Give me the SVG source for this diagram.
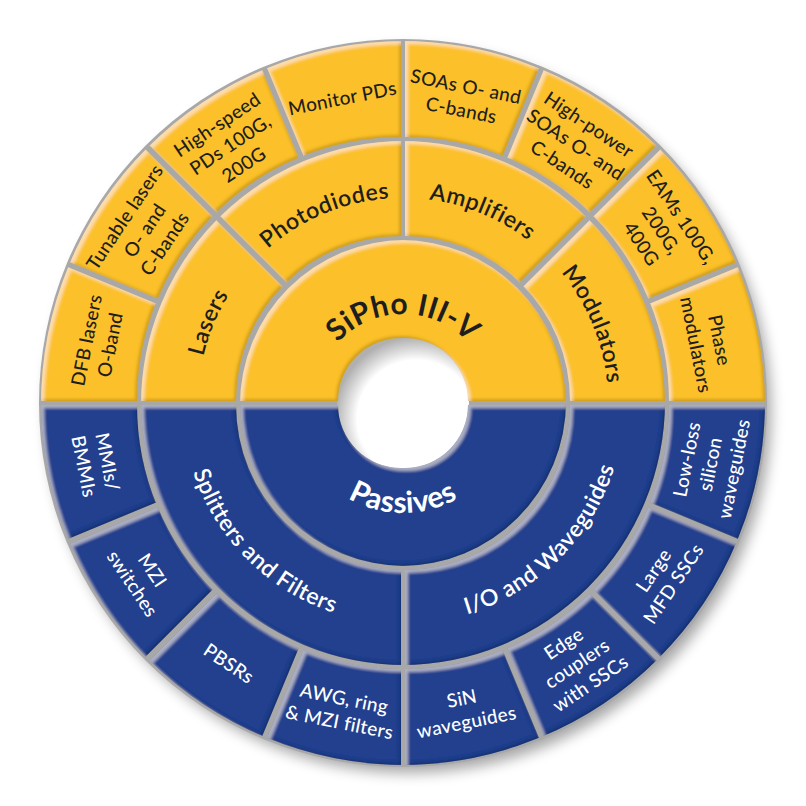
<svg xmlns="http://www.w3.org/2000/svg" xmlns:xlink="http://www.w3.org/1999/xlink" width="806" height="806" viewBox="0 0 806 806">
<style>
.y{fill:#FCC12B}
.b{fill:#213F8E}
.seg{filter:url(#bev)}
text{font-family:Lato,"Open Sans","Liberation Sans",sans-serif}
.to{font-size:19px;font-weight:500;letter-spacing:0.3px;text-anchor:middle;dominant-baseline:central}
.tm{font-size:23px;font-weight:600;letter-spacing:0.5px}
.tc{font-size:30px;font-weight:700;letter-spacing:0.5px}
.dk{fill:#1e1e1e}
.wt{fill:#ffffff}
</style>
<defs>
<filter id="shadow" x="-15%" y="-15%" width="130%" height="130%"><feGaussianBlur stdDeviation="7"/></filter>
<filter id="bev" x="-5%" y="-5%" width="110%" height="110%">
<feMorphology in="SourceAlpha" operator="erode" radius="2" result="er"/>
<feComposite in="SourceGraphic" in2="er" operator="in" result="fill"/>
<feGaussianBlur in="er" stdDeviation="1.5" result="blur"/>
<feOffset in="blur" dx="-2.5" dy="-2.5" result="o1"/>
<feComposite in="er" in2="o1" operator="out" result="dEdge"/>
<feFlood flood-color="#000" flood-opacity="0.35"/>
<feComposite in2="dEdge" operator="in" result="dark"/>
<feOffset in="blur" dx="2.5" dy="2.5" result="o2"/>
<feComposite in="er" in2="o2" operator="out" result="lEdge"/>
<feFlood flood-color="#fff" flood-opacity="0.4"/>
<feComposite in2="lEdge" operator="in" result="light"/>
<feMerge><feMergeNode in="fill"/><feMergeNode in="dark"/><feMergeNode in="light"/></feMerge>
</filter>
<radialGradient id="holeG" cx="0.6" cy="0.62" r="0.62">
<stop offset="0.72" stop-color="#ffffff"/>
<stop offset="1" stop-color="#b0b0b0"/>
</radialGradient>
<path id="arc-sipho" d="M 314 403 A 89 89 0 0 1 492 403"/>
<path id="arc-passives" d="M 293 403 A 110 110 0 0 0 513 403"/>
<path id="arc-lasers" d="M 198 403 A 205 205 0 0 1 258.04 258.04"/>
<path id="arc-photo" d="M 258.04 258.04 A 205 205 0 0 1 403 198"/>
<path id="arc-amp" d="M 403 198 A 205 205 0 0 1 547.96 258.04"/>
<path id="arc-mod" d="M 547.96 258.04 A 205 205 0 0 1 608 403"/>
<path id="arc-split" d="M 182 403 A 221 221 0 0 0 403 624"/>
<path id="arc-io" d="M 403 624 A 221 221 0 0 0 624 403"/>
</defs>

<circle cx="409" cy="411" r="362" fill="#000" opacity="0.35" filter="url(#shadow)"/>
<circle cx="403" cy="403" r="364" fill="#a8a8a8"/>
<circle cx="403" cy="403" r="66" fill="url(#holeG)"/>

<!-- inner ring -->
<g id="sipho">
<path class="seg y" d="M 238 403 A 165 165 0 0 1 568 403 L 466 403 A 63 63 0 0 0 340 403 Z"/>
<text class="tc dk"><textPath xlink:href="#arc-sipho" href="#arc-sipho" startOffset="50%" text-anchor="middle">SiPho III-V</textPath></text>
</g>
<g id="passives">
<path class="seg b" d="M 568 403 A 165 165 0 0 1 238 403 L 340 403 A 63 63 0 0 0 466 403 Z"/>
<text class="tc wt"><textPath xlink:href="#arc-passives" href="#arc-passives" startOffset="50%" text-anchor="middle">Passives</textPath></text>
</g>

<!-- middle ring -->
<g id="lasers">
<path class="seg y" d="M 139 403 A 264 264 0 0 1 216.32 216.32 L 286.33 286.33 A 165 165 0 0 0 238 403 Z"/>
<text class="tm dk"><textPath xlink:href="#arc-lasers" href="#arc-lasers" startOffset="50%" text-anchor="middle">Lasers</textPath></text>
</g>
<g id="photodiodes">
<path class="seg y" d="M 216.32 216.32 A 264 264 0 0 1 403 139 L 403 238 A 165 165 0 0 0 286.33 286.33 Z"/>
<text class="tm dk"><textPath xlink:href="#arc-photo" href="#arc-photo" startOffset="50%" text-anchor="middle">Photodiodes</textPath></text>
</g>
<g id="amplifiers">
<path class="seg y" d="M 403 139 A 264 264 0 0 1 589.68 216.32 L 519.67 286.33 A 165 165 0 0 0 403 238 Z"/>
<text class="tm dk"><textPath xlink:href="#arc-amp" href="#arc-amp" startOffset="50%" text-anchor="middle">Amplifiers</textPath></text>
</g>
<g id="modulators">
<path class="seg y" d="M 589.68 216.32 A 264 264 0 0 1 667 403 L 568 403 A 165 165 0 0 0 519.67 286.33 Z"/>
<text class="tm dk"><textPath xlink:href="#arc-mod" href="#arc-mod" startOffset="50%" text-anchor="middle">Modulators</textPath></text>
</g>
<g id="splitters-filters">
<path class="seg b" d="M 403 667 A 264 264 0 0 1 139 403 L 238 403 A 165 165 0 0 0 403 568 Z"/>
<text class="tm wt"><textPath xlink:href="#arc-split" href="#arc-split" startOffset="50%" text-anchor="middle">Splitters and Filters</textPath></text>
</g>
<g id="io-waveguides">
<path class="seg b" d="M 667 403 A 264 264 0 0 1 403 667 L 403 568 A 165 165 0 0 0 568 403 Z"/>
<text class="tm wt"><textPath xlink:href="#arc-io" href="#arc-io" startOffset="50%" text-anchor="middle">I/O and Waveguides</textPath></text>
</g>

<!-- outer ring, top -->
<g id="dfb-lasers">
<path class="seg y" d="M 39 403 A 364 364 0 0 1 66.71 263.70 L 159.10 301.97 A 264 264 0 0 0 139 403 Z"/>
<text class="to dk" transform="translate(96.99 342.13) rotate(-78.75)"><tspan x="0" y="-12">DFB lasers</tspan><tspan x="0" y="12">O-band</tspan></text>
</g>
<g id="tunable-lasers">
<path class="seg y" d="M 66.71 263.70 A 364 364 0 0 1 145.61 145.61 L 216.32 216.32 A 264 264 0 0 0 159.10 301.97 Z"/>
<text class="to dk" transform="translate(143.58 229.66) rotate(-56.25)"><tspan x="0" y="-24">Tunable lasers</tspan><tspan x="0" y="0">O- and</tspan><tspan x="0" y="24">C-bands</tspan></text>
</g>
<g id="high-speed-pds">
<path class="seg y" d="M 145.61 145.61 A 364 364 0 0 1 263.70 66.71 L 301.97 159.10 A 264 264 0 0 0 216.32 216.32 Z"/>
<text class="to dk" transform="translate(229.66 143.58) rotate(-33.75)"><tspan x="0" y="-24">High-speed</tspan><tspan x="0" y="0">PDs 100G,</tspan><tspan x="0" y="24">200G</tspan></text>
</g>
<g id="monitor-pds">
<path class="seg y" d="M 263.70 66.71 A 364 364 0 0 1 403 39 L 403 139 A 264 264 0 0 0 301.97 159.10 Z"/>
<text class="to dk" transform="translate(342.13 96.99) rotate(-11.25)"><tspan x="0" y="0">Monitor PDs</tspan></text>
</g>
<g id="soas">
<path class="seg y" d="M 403 39 A 364 364 0 0 1 542.30 66.71 L 504.03 159.10 A 264 264 0 0 0 403 139 Z"/>
<text class="to dk" transform="translate(463.87 96.99) rotate(11.25)"><tspan x="0" y="-12">SOAs O- and</tspan><tspan x="0" y="12">C-bands</tspan></text>
</g>
<g id="high-power-soas">
<path class="seg y" d="M 542.30 66.71 A 364 364 0 0 1 660.39 145.61 L 589.68 216.32 A 264 264 0 0 0 504.03 159.10 Z"/>
<text class="to dk" transform="translate(576.34 143.58) rotate(33.75)"><tspan x="0" y="-24">High-power</tspan><tspan x="0" y="0">SOAs O- and</tspan><tspan x="0" y="24">C-bands</tspan></text>
</g>
<g id="eams">
<path class="seg y" d="M 660.39 145.61 A 364 364 0 0 1 739.29 263.70 L 646.90 301.97 A 264 264 0 0 0 589.68 216.32 Z"/>
<text class="to dk" transform="translate(662.42 229.66) rotate(56.25)"><tspan x="0" y="-24">EAMs 100G,</tspan><tspan x="0" y="0">200G,</tspan><tspan x="0" y="24">400G</tspan></text>
</g>
<g id="phase-modulators">
<path class="seg y" d="M 739.29 263.70 A 364 364 0 0 1 767 403 L 667 403 A 264 264 0 0 0 646.90 301.97 Z"/>
<text class="to dk" transform="translate(709.01 342.13) rotate(78.75)"><tspan x="0" y="-12">Phase</tspan><tspan x="0" y="12">modulators</tspan></text>
</g>

<!-- outer ring, bottom -->
<g id="low-loss-si-wg">
<path class="seg b" d="M 767 403 A 364 364 0 0 1 739.29 542.30 L 646.90 504.03 A 264 264 0 0 0 667 403 Z"/>
<text class="to wt" transform="translate(709.01 463.87) rotate(-78.75)"><tspan x="0" y="-24">Low-loss</tspan><tspan x="0" y="0">silicon</tspan><tspan x="0" y="24">waveguides</tspan></text>
</g>
<g id="large-mfd-sscs">
<path class="seg b" d="M 739.29 542.30 A 364 364 0 0 1 660.39 660.39 L 589.68 589.68 A 264 264 0 0 0 646.90 504.03 Z"/>
<text class="to wt" transform="translate(662.42 576.34) rotate(-56.25)"><tspan x="0" y="-12">Large</tspan><tspan x="0" y="12">MFD SSCs</tspan></text>
</g>
<g id="edge-couplers">
<path class="seg b" d="M 660.39 660.39 A 364 364 0 0 1 542.30 739.29 L 504.03 646.90 A 264 264 0 0 0 589.68 589.68 Z"/>
<text class="to wt" transform="translate(576.34 662.42) rotate(-33.75)"><tspan x="0" y="-24">Edge</tspan><tspan x="0" y="0">couplers</tspan><tspan x="0" y="24">with SSCs</tspan></text>
</g>
<g id="sin-waveguides">
<path class="seg b" d="M 542.30 739.29 A 364 364 0 0 1 403 767 L 403 667 A 264 264 0 0 0 504.03 646.90 Z"/>
<text class="to wt" transform="translate(463.87 709.01) rotate(-11.25)"><tspan x="0" y="-12">SiN</tspan><tspan x="0" y="12">waveguides</tspan></text>
</g>
<g id="awg-filters">
<path class="seg b" d="M 403 767 A 364 364 0 0 1 263.70 739.29 L 301.97 646.90 A 264 264 0 0 0 403 667 Z"/>
<text class="to wt" transform="translate(342.13 709.01) rotate(11.25)"><tspan x="0" y="-12">AWG, ring</tspan><tspan x="0" y="12">&amp; MZI filters</tspan></text>
</g>
<g id="pbsrs">
<path class="seg b" d="M 263.70 739.29 A 364 364 0 0 1 145.61 660.39 L 216.32 589.68 A 264 264 0 0 0 301.97 646.90 Z"/>
<text class="to wt" transform="translate(229.66 662.42) rotate(33.75)"><tspan x="0" y="0">PBSRs</tspan></text>
</g>
<g id="mzi-switches">
<path class="seg b" d="M 145.61 660.39 A 364 364 0 0 1 66.71 542.30 L 159.10 504.03 A 264 264 0 0 0 216.32 589.68 Z"/>
<text class="to wt" transform="translate(143.58 576.34) rotate(56.25)"><tspan x="0" y="-12">MZI</tspan><tspan x="0" y="12">switches</tspan></text>
</g>
<g id="mmis-bmmis">
<path class="seg b" d="M 66.71 542.30 A 364 364 0 0 1 39 403 L 139 403 A 264 264 0 0 0 159.10 504.03 Z"/>
<text class="to wt" transform="translate(96.99 463.87) rotate(78.75)"><tspan x="0" y="-12">MMIs/</tspan><tspan x="0" y="12">BMMIs</tspan></text>
</g>
</svg>
